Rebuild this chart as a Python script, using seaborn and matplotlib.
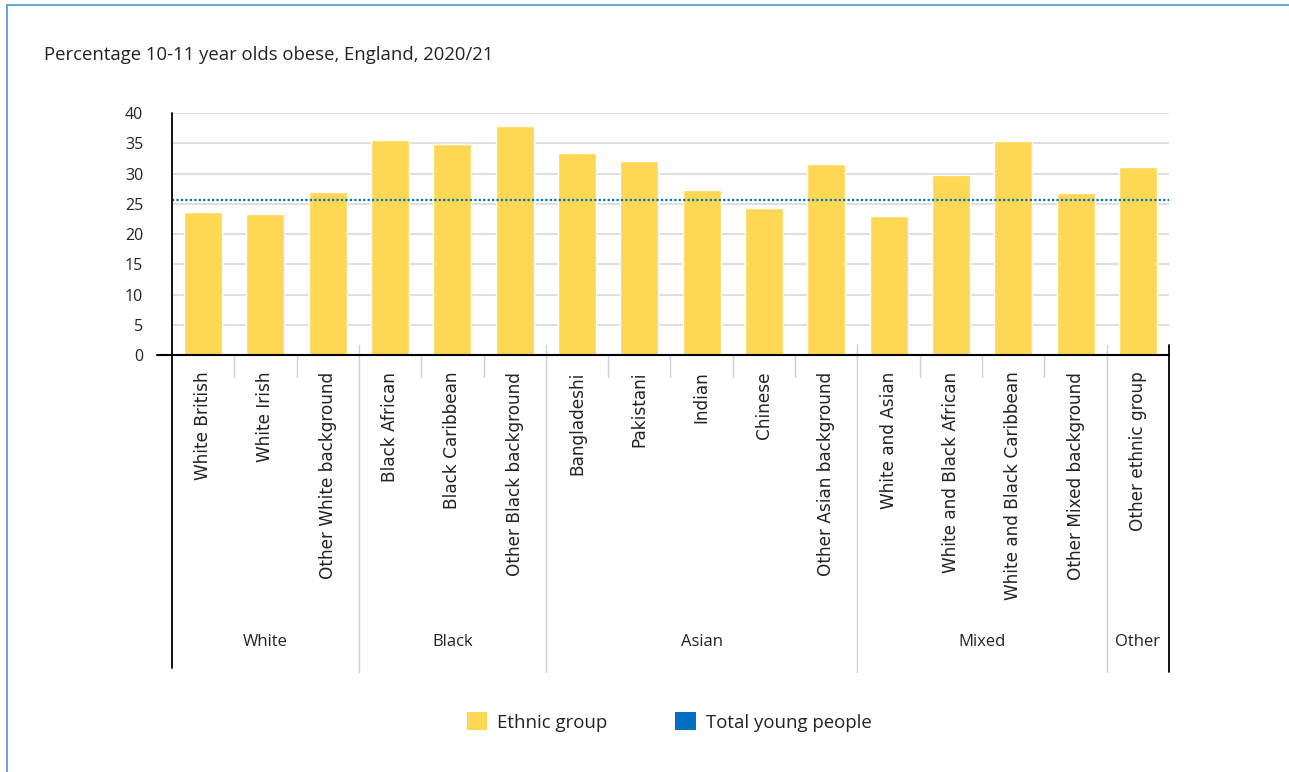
import matplotlib.pyplot as plt
import matplotlib.transforms as mtransforms
from matplotlib.patches import Patch, Rectangle
import seaborn as sns
import pandas as pd

categories = [
    "White British", "White Irish", "Other White background",
    "Black African", "Black Caribbean", "Other Black background",
    "Bangladeshi", "Pakistani", "Indian", "Chinese", "Other Asian background",
    "White and Asian", "White and Black African", "White and Black Caribbean",
    "Other Mixed background", "Other ethnic group",
]
groups = [
    "White", "White", "White",
    "Black", "Black", "Black",
    "Asian", "Asian", "Asian", "Asian", "Asian",
    "Mixed", "Mixed", "Mixed", "Mixed",
    "Other",
]
values = [23.6, 23.3, 27.0, 35.6, 34.8, 37.9, 33.4, 32.1, 27.2, 24.3, 31.6,
          22.9, 29.8, 35.4, 26.8, 31.1]
total_young_people = 25.7

data = pd.DataFrame({"category": categories, "group": groups, "value": values})

YELLOW = "#FFD853"
BLUE = "#0070C0"
GRID = "#D9D9D9"
SEP = "#D0D0D0"

sns.set_theme(style="white")
plt.rcParams["font.family"] = ["Open Sans", "DejaVu Sans"]

fig = plt.figure(figsize=(12.89, 7.72), dpi=100)
ax = fig.add_axes([172 / 1289, 1 - 355 / 772, (1169 - 172) / 1289, (355 - 113) / 772])

sns.barplot(data=data, x="category", y="value", color=YELLOW, width=0.61,
            saturation=1, ax=ax, zorder=3)
ax.axhline(total_young_people, color=BLUE, linestyle=(0, (1, 1)), linewidth=1.6, zorder=4)

ax.set_ylim(0, 40)
ax.set_xlim(-0.5, len(categories) - 0.5)
ax.set_yticks(range(0, 41, 5))
ax.yaxis.grid(True, color=GRID, linewidth=1.2, zorder=0)
ax.tick_params(axis="y", length=10.8, color=GRID, width=1.2, pad=10, labelsize=11.5,
               labelcolor="#222222")
ax.tick_params(axis="x", length=0, pad=12)
ax.set_xticks(range(len(categories)))
ax.set_xticklabels(categories, rotation=90, va="top", ha="center",
                   fontsize=12.2, family="DejaVu Sans", color="#222222")
ax.set_xlabel(None)
ax.set_ylabel(None)
for s in ["top", "right", "bottom", "left"]:
    ax.spines[s].set_visible(False)

trans = mtransforms.blended_transform_factory(ax.transData, ax.transAxes)
h = 242.0
# x axis line extending past the left spine
ax.plot([-0.5 - 15 / 62.3, len(categories) - 0.5], [0, 0], transform=trans,
        color="black", linewidth=1.5, clip_on=False, zorder=5)
# left spine extended down into the label area
ax.plot([-0.5, -0.5], [1, -(668 - 355) / h], transform=trans, color="black",
        linewidth=1.3, clip_on=False, zorder=5)
# right black line
ax.plot([len(categories) - 0.5] * 2, [10 / h, -(672 - 355) / h], transform=trans,
        color="black", linewidth=1.3, clip_on=False, zorder=5)

# separators
for i in range(1, len(categories)):
    if groups[i] != groups[i - 1]:
        ax.plot([i - 0.5] * 2, [10 / h, -(672 - 355) / h], transform=trans,
                color=SEP, linewidth=1, clip_on=False)
    else:
        ax.plot([i - 0.5] * 2, [0, -22 / h], transform=trans,
                color=SEP, linewidth=1, clip_on=False)

# group labels
for g in data["group"].unique():
    idx = data.index[data["group"] == g]
    ax.text(idx.to_numpy().mean(), -(642 - 355) / h, g, transform=trans,
            ha="center", va="center", fontsize=12, color="#222222")

fig.text(44 / 1289, 1 - 55 / 772, "Percentage 10-11 year olds obese, England, 2020/21",
         ha="left", va="center", fontsize=13.3, color="#222222")

handles = [Patch(facecolor=YELLOW, edgecolor="none", label="Ethnic group"),
           Patch(facecolor=BLUE, edgecolor="none", label="Total young people")]
fig.legend(handles=handles, loc="center", bbox_to_anchor=(669 / 1289, 1 - 722 / 772),
           ncol=2, frameon=False, fontsize=13.4, handlelength=1.1, handleheight=1.1,
           columnspacing=3.65, handletextpad=0.54, labelcolor="#222222")

fig.patches.append(Rectangle((7 / 1289, -0.1), 1.2, 1 - 5 / 772 + 0.1,
                             transform=fig.transFigure, fill=False,
                             edgecolor="#5B9BD5", linewidth=1.3))

fig.savefig("out.png", dpi=100)
